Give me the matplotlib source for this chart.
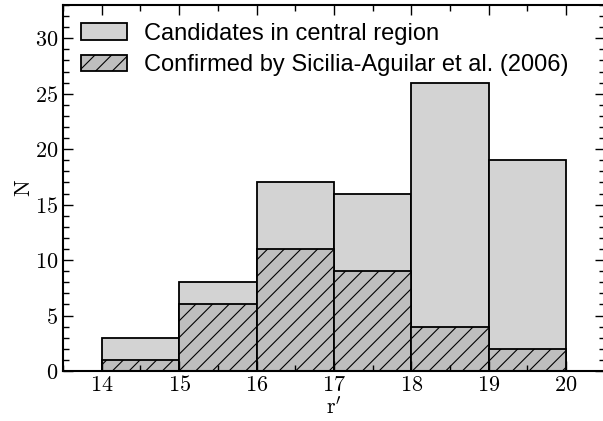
import numpy as np
import matplotlib
matplotlib.use("Agg")
import matplotlib.pyplot as plt
from matplotlib.ticker import MultipleLocator

# data: magnitude bins and counts
bin_edges = [14, 15, 16, 17, 18, 19, 20]
candidates = [3, 8, 17, 16, 26, 19]
confirmed = [1, 6, 11, 9, 4, 2]

plt.rcParams['font.family'] = 'serif'
plt.rcParams['font.serif'] = ['cmr10', 'DejaVu Serif']
plt.rcParams['mathtext.fontset'] = 'cm'
plt.rcParams['axes.formatter.use_mathtext'] = True
plt.rcParams['hatch.linewidth'] = 0.8

fig = plt.figure(figsize=(6.03, 4.21), dpi=100)
ax = fig.add_axes([0.1045, 0.1188, 0.8985, 0.8692])

left = bin_edges[:-1]
ax.bar(left, candidates, width=1, align='edge', color='#d3d3d3',
       edgecolor='black', linewidth=1.3, label='Candidates in central region')
ax.bar(left, confirmed, width=1, align='edge', color='#bebebe',
       edgecolor='black', linewidth=1.3, hatch='//',
       label='Confirmed by Sicilia-Aguilar et al. (2006)')

ax.set_xlim(13.5, 20.5)
ax.set_ylim(0, 33)
ax.xaxis.set_major_locator(MultipleLocator(1))
ax.xaxis.set_minor_locator(MultipleLocator(0.5))
ax.yaxis.set_major_locator(MultipleLocator(5))
ax.yaxis.set_minor_locator(MultipleLocator(1))
ax.tick_params(which='both', direction='in', top=True, right=True,
               labelsize=16, width=1)
ax.tick_params(which='major', length=7)
ax.tick_params(axis='x', which='major', pad=3)
ax.tick_params(which='minor', length=4)
for s in ax.spines.values():
    s.set_linewidth(1.5)

ax.set_xlabel(r"$\mathrm{r}^{\prime}$", fontsize=16, labelpad=1)
ax.set_ylabel("N", fontsize=16, labelpad=1)

leg = ax.legend(loc='upper left', frameon=False,
                prop={'family': 'Liberation Sans', 'size': 17},
                handlelength=1.95, handleheight=0.72, handletextpad=0.72,
                labelspacing=0.4, borderaxespad=0.35)

fig.savefig('out.png', dpi=100)
